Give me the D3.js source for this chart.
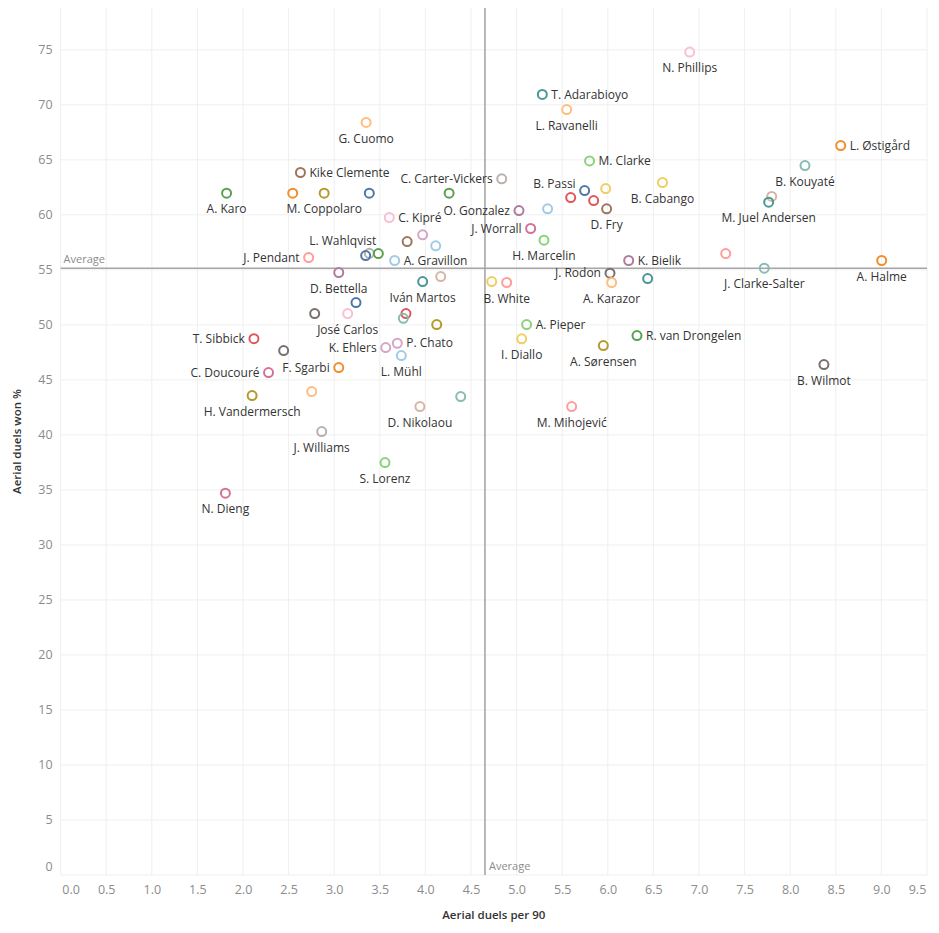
<!DOCTYPE html>
<html>
<head>
<meta charset="utf-8">
<script src="https://cdn.jsdelivr.net/npm/d3@7"></script>
<style>
  html, body { margin: 0; padding: 0; background: #fff; }
  svg { display: block; font-family: "Open Sans", "Noto Sans", sans-serif; }
</style>
</head>
<body>
<svg id="chart" width="939" height="933"></svg>
<script>
// ---- data ----
const players = [
  "G. Cuomo","Kike Clemente","A. Karo","","M. Coppolaro","","","C. Carter-Vickers",
  "C. Kipré","","","","","L. Wahlqvist","","J. Pendant","A. Gravillon","D. Bettella",
  "Iván Martos","","","","José Carlos","","","","T. Sibbick","","C. Doucouré","F. Sgarbi",
  "H. Vandermersch","","J. Williams","K. Ehlers","P. Chato","L. Mühl","D. Nikolaou","",
  "S. Lorenz","N. Dieng","N. Phillips","T. Adarabioyo","L. Ravanelli","L. Østigård",
  "B. Kouyaté","M. Clarke","B. Cabango","","B. Passi","","","D. Fry","","O. Gonzalez",
  "J. Worrall","H. Marcelin","K. Bielik","J. Rodon","","A. Karazor","","J. Clarke-Salter",
  "A. Halme","","M. Juel Andersen","","B. White","A. Pieper","I. Diallo","A. Sørensen",
  "R. van Drongelen","B. Wilmot","M. Mihojević"
];
const duelsPer90 = [
  3.35,2.63,1.82,2.545,2.89,3.385,4.26,4.837,
  3.604,3.97,3.80,4.113,3.385,3.345,3.484,2.72,3.663,3.05,
  3.97,4.168,3.239,2.786,3.148,3.787,3.758,4.124,2.12,2.446,2.28,3.05,
  2.10,2.753,2.863,3.565,3.692,3.736,3.94,4.387,
  3.557,1.807,6.898,5.282,5.549,8.554,
  8.162,5.80,6.60,5.977,5.746,5.593,5.845,5.987,5.34,5.026,
  5.154,5.30,6.229,6.024,6.437,6.042,7.293,7.716,
  9.003,7.797,7.764,4.727,4.891,5.11,5.056,5.951,
  6.32,8.37,5.604
];
const duelsWonPct = [
  68.4,63.85,61.97,61.97,61.97,61.97,61.97,63.27,
  59.76,58.18,57.57,57.18,56.5,56.3,56.48,56.12,55.85,54.76,
  53.94,54.39,52.03,51.03,51.03,51.03,50.6,50.03,48.75,47.66,45.67,46.12,
  43.57,43.94,40.3,47.94,48.33,47.21,42.57,43.48,
  37.48,34.7,74.79,70.94,69.57,66.3,
  64.48,64.9,62.94,62.39,62.21,61.57,61.3,60.55,60.55,60.39,
  58.76,57.7,55.85,54.7,54.21,53.85,56.48,55.15,
  55.85,61.67,61.15,53.94,53.85,50.03,48.73,48.12,
  49.03,46.39,42.57
];
const colorGroup = [
  "lightorange","brown","green","orange","olive","blue","green","lightgrey",
  "lightpink","lilac","brown","lightblue","lightgrey","blue","green","salmon","lightblue","purple",
  "teal","tan","blue","grey","lightpink","red","lightteal","olive","red","grey","pink","orange",
  "olive","lightorange","lightgrey","lilac","lilac","lightblue","tan","lightteal",
  "lightgreen","pink","lightpink","teal","lightorange","orange",
  "lightteal","lightgreen","yellow","yellow","blue","red","red","brown","lightblue","purple",
  "pink","lightgreen","purple","grey","teal","lightorange","salmon","lightteal",
  "orange","tan","teal","yellow","salmon","lightgreen","yellow","olive",
  "green","grey","salmon"
];
const averageX = 4.653;
const averageY = 55.15;
const xTicks = d3.range(0, 9.51, 0.5);
const yTicks = d3.range(0, 76, 5);
const xTitle = "Aerial duels per 90";
const yTitle = "Aerial duels won %";
const averageLabel = "Average";

// label placement: b = below, r = right, l = left, wq/pl = shifted above-left
const labelPlacement = {
  "G. Cuomo":"b","Kike Clemente":"r","A. Karo":"b","M. Coppolaro":"b","C. Carter-Vickers":"l",
  "C. Kipré":"r","L. Wahlqvist":"wq","J. Pendant":"l","A. Gravillon":"r","D. Bettella":"b",
  "Iván Martos":"b","José Carlos":"b","T. Sibbick":"l","C. Doucouré":"l","F. Sgarbi":"l",
  "H. Vandermersch":"b","J. Williams":"b","K. Ehlers":"l","P. Chato":"r","L. Mühl":"b",
  "D. Nikolaou":"b","S. Lorenz":"b","N. Dieng":"b","N. Phillips":"b","T. Adarabioyo":"r",
  "L. Ravanelli":"b","L. Østigård":"r","B. Kouyaté":"b","M. Clarke":"r","B. Cabango":"b",
  "B. Passi":"pl","D. Fry":"b","O. Gonzalez":"l","J. Worrall":"l","H. Marcelin":"b",
  "K. Bielik":"r","J. Rodon":"l","A. Karazor":"b","J. Clarke-Salter":"b","A. Halme":"b",
  "M. Juel Andersen":"b","B. White":"b","A. Pieper":"r","I. Diallo":"b","A. Sørensen":"b",
  "R. van Drongelen":"r","B. Wilmot":"b","M. Mihojević":"b"
};

const palette = {
  blue:"#4e79a7", lightblue:"#a0cbe8", orange:"#f28e2b", lightorange:"#ffbe7d",
  green:"#59a14f", lightgreen:"#8cd17d", olive:"#b6992d", yellow:"#f1ce63",
  teal:"#499894", lightteal:"#86bcb6", red:"#e15759", salmon:"#ff9d9a",
  grey:"#79706e", lightgrey:"#bab0ac", pink:"#d37295", lightpink:"#fabfd2",
  purple:"#b07aa1", lilac:"#d4a6c8", brown:"#9d7660", tan:"#d7b5a6"
};

const data = players.map((name, i) => ({
  name, x: duelsPer90[i], y: duelsWonPct[i], color: palette[colorGroup[i]]
}));

// ---- layout ----
const svg = d3.select("#chart");
const plotL = 60.6, plotR = 927, plotT = 8, plotB = 875;
const x = d3.scaleLinear().domain([0, 9.5]).range([plotL, plotR]);
const y = d3.scaleLinear().domain([0, 78.8]).range([plotB, plotT]);

// gridlines
const grid = svg.append("g");
grid.selectAll("line.vg").data(xTicks).join("line").attr("class", "vg")
  .attr("x1", d => x(d)).attr("x2", d => x(d))
  .attr("y1", plotT).attr("y2", plotB)
  .attr("stroke", "#efefef").attr("stroke-width", 1);
grid.selectAll("line.hg").data(yTicks).join("line").attr("class", "hg")
  .attr("x1", plotL).attr("x2", plotR)
  .attr("y1", d => y(d)).attr("y2", d => y(d))
  .attr("stroke", "#efefef").attr("stroke-width", 1);

// axes
const xAxis = svg.append("g").attr("transform", `translate(0,${plotB})`)
  .call(d3.axisBottom(x).tickValues(xTicks).tickFormat(d3.format(".1f")).tickSize(0).tickPadding(10));
xAxis.select(".domain").remove();
xAxis.selectAll("text").attr("fill", "#8c8c8c").attr("font-size", "12.5px")
  .attr("font-family", "'Open Sans', sans-serif")
  .attr("dx", (d, i) => i === 0 ? 10 : (i === xTicks.length - 1 ? -10 : 0));

const yAxis = svg.append("g").attr("transform", `translate(${plotL},0)`)
  .call(d3.axisLeft(y).tickValues(yTicks).tickFormat(d3.format("d")).tickSize(0).tickPadding(8));
yAxis.select(".domain").remove();
yAxis.selectAll("text").attr("fill", "#8c8c8c").attr("font-size", "12.5px")
  .attr("font-family", "'Open Sans', sans-serif")
  .attr("dy", d => d === 0 ? "-0.35em" : "0.32em");

// axis titles
svg.append("text").attr("x", (plotL + plotR) / 2).attr("y", 919)
  .attr("text-anchor", "middle").attr("font-size", "11.5px").attr("font-weight", 600)
  .attr("fill", "#333").text(xTitle);
svg.append("text").attr("transform", `translate(21,${(plotT + plotB) / 2}) rotate(-90)`)
  .attr("text-anchor", "middle").attr("font-size", "11.5px").attr("font-weight", 600)
  .attr("fill", "#333").text(yTitle);

// average reference lines
svg.append("line").attr("x1", plotL).attr("x2", plotR)
  .attr("y1", y(averageY)).attr("y2", y(averageY))
  .attr("stroke", "#a6a6a6").attr("stroke-width", 1.6);
svg.append("line").attr("x1", x(averageX)).attr("x2", x(averageX))
  .attr("y1", plotT).attr("y2", plotB)
  .attr("stroke", "#a6a6a6").attr("stroke-width", 1.6);
svg.append("text").attr("x", plotL + 3).attr("y", y(averageY) - 5)
  .attr("font-size", "11px").attr("fill", "#8c8c8c").text(averageLabel);
svg.append("text").attr("x", x(averageX) + 4).attr("y", plotB - 5)
  .attr("font-size", "11px").attr("fill", "#8c8c8c").text(averageLabel);

// points
svg.append("g").selectAll("circle").data(data).join("circle")
  .attr("cx", d => x(d.x)).attr("cy", d => y(d.y)).attr("r", 4.5)
  .attr("fill", "none").attr("stroke", d => d.color).attr("stroke-width", 2);

// labels
const lab = svg.append("g").attr("font-size", "12px").attr("fill", "#333");
data.filter(d => d.name).forEach(d => {
  const p = labelPlacement[d.name] || "b";
  const px = x(d.x), py = y(d.y);
  let tx = px, ty = py + 16, anchor = "middle";
  if (p === "r") { tx = px + 9; ty = py; anchor = "start"; }
  else if (p === "l") { tx = px - 9; ty = py; anchor = "end"; }
  else if (p === "wq") { tx = px - 23; ty = py - 15; anchor = "middle"; }
  else if (p === "pl") { tx = px - 9; ty = py - 7; anchor = "end"; }
  lab.append("text").attr("x", tx).attr("y", ty).attr("dy", "0.35em")
    .attr("text-anchor", anchor).text(d.name);
});
</script>
</body>
</html>
